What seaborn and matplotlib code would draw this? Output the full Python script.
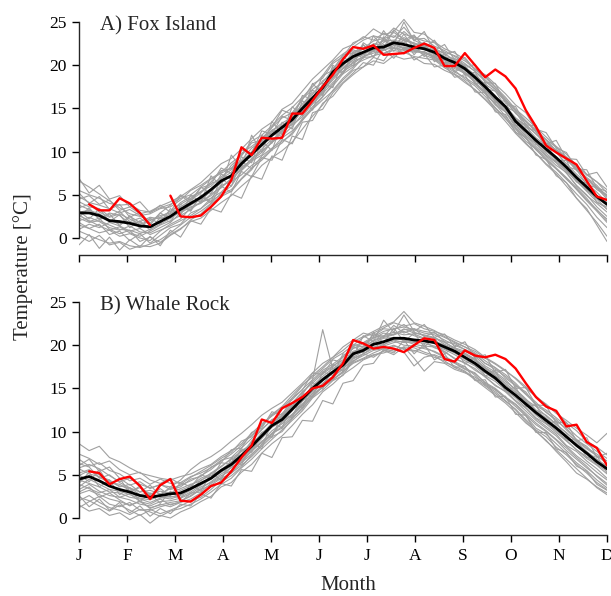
import numpy as np
import pandas as pd
import matplotlib
matplotlib.use("Agg")
import matplotlib.pyplot as plt
import seaborn as sns

# ---------------- data ----------------
weeks = list(range(53))
month_labels = ["J", "F", "M", "A", "M", "J", "J", "A", "S", "O", "N", "D"]
panel_titles = ["A) Fox Island", "B) Whale Rock"]

fox_mean = [2.9, 2.9, 2.6, 2.0, 1.9, 1.7, 1.4, 1.3, 1.9, 2.5, 3.3,
            4.0, 4.7, 5.6, 6.6, 7.2, 8.6, 9.7, 10.8, 11.9, 12.8, 13.7,
            15.0, 16.2, 17.4, 19.2, 20.2, 21.0, 21.5, 22.0, 22.1, 22.6, 22.4,
            22.1, 21.9, 21.5, 20.8, 20.3, 19.6, 18.6, 17.5, 16.3, 15.2, 13.5,
            12.4, 11.3, 10.3, 9.3, 8.2, 7.0, 5.9, 4.8, 3.9]

fox_focus = [np.nan, 3.9, 3.2, 3.2, 4.6, 4.0, 2.9, 1.5, np.nan, 4.9, 2.5,
             2.4, 2.6, 3.6, 4.8, 6.7, 10.5, 9.6, 11.6, 11.5, 11.6, 14.4,
             14.4, 15.9, 17.5, 18.9, 20.7, 22.1, 21.9, 22.3, 21.2, 21.3, 21.4,
             22.0, 22.5, 22.0, 19.9, 19.9, 21.4, 20.0, 18.6, 19.5, 18.7, 17.3,
             14.8, 12.9, 10.7, 9.9, 9.2, 8.5, 6.6, 4.8, 4.4]

fox_years = [
    [5.5, 5.0, 4.6, 4.0, 3.8, 3.9, 3.2, 3.0, 3.5, 3.9, 4.6,
     5.0, 5.9, 6.8, 7.5, 8.1, 9.0, 10.4, 11.2, 12.5, 13.0, 13.9,
     14.6, 15.8, 17.0, 18.3, 19.6, 20.2, 21.0, 21.4, 21.8, 22.0, 21.7,
     21.5, 21.6, 20.9, 20.2, 19.8, 19.0, 18.2, 17.4, 16.0, 15.1, 13.9,
     13.0, 12.1, 11.0, 10.2, 9.4, 8.3, 7.4, 6.5, 5.6],
    [0.8, 0.3, -0.2, -0.6, -0.4, -0.9, -1.1, -0.7, -0.2, 0.6, 1.5,
     2.4, 3.1, 4.0, 5.2, 6.0, 7.8, 8.9, 9.6, 11.2, 12.3, 13.2,
     14.8, 16.0, 17.5, 18.8, 19.9, 21.3, 22.0, 22.8, 23.1, 23.4, 22.8,
     22.6, 22.0, 21.2, 20.5, 19.8, 19.2, 18.0, 16.9, 15.4, 14.6, 12.8,
     11.6, 10.2, 9.1, 8.0, 6.9, 5.6, 4.3, 3.1, 1.8],
    [3.5, 3.9, 3.0, 2.4, 2.8, 2.2, 1.6, 2.0, 2.6, 2.9, 4.1,
     4.8, 5.3, 6.5, 7.8, 8.0, 9.8, 10.6, 11.5, 12.8, 13.9, 14.5,
     16.1, 17.2, 18.0, 19.5, 21.2, 21.4, 22.3, 21.6, 23.0, 22.4, 23.2,
     22.5, 22.1, 21.8, 21.4, 20.4, 20.1, 19.3, 18.1, 17.2, 15.9, 14.4,
     13.5, 12.3, 11.4, 10.1, 9.0, 8.1, 6.8, 5.9, 4.7],
    [1.5, 1.1, 0.6, 0.9, 0.2, 0.5, 0.0, -0.3, 0.8, 1.6, 2.2,
     3.5, 4.1, 4.6, 5.9, 6.8, 7.9, 9.2, 10.1, 11.0, 12.5, 13.1,
     14.0, 15.6, 16.9, 18.5, 19.7, 20.8, 21.2, 21.9, 22.6, 23.8, 23.0,
     22.4, 22.6, 21.9, 21.0, 20.1, 19.0, 18.4, 17.1, 15.8, 14.7, 13.0,
     11.8, 10.9, 9.6, 8.7, 7.5, 6.1, 5.0, 3.6, 2.5],
    [4.2, 3.6, 3.4, 2.5, 3.1, 1.9, 2.3, 1.5, 2.9, 3.8, 5.0,
     4.4, 5.8, 6.2, 8.1, 7.5, 10.2, 9.8, 12.4, 12.0, 14.1, 13.6,
     16.5, 16.0, 18.8, 19.4, 20.9, 20.3, 22.6, 21.8, 22.9, 22.0, 23.6,
     21.9, 21.4, 21.0, 20.3, 20.4, 19.1, 18.6, 17.0, 16.4, 15.3, 13.9,
     12.9, 11.6, 10.7, 9.9, 8.6, 7.4, 6.3, 5.3, 4.1],
    [2.0, 2.4, 1.9, 1.2, 0.9, 1.4, 0.7, 0.6, 1.2, 1.8, 2.9,
     3.6, 4.0, 5.1, 5.8, 6.9, 8.0, 9.1, 10.3, 11.4, 12.0, 13.4,
     14.7, 15.9, 17.1, 18.6, 19.6, 20.6, 21.4, 21.7, 21.9, 22.5, 22.0,
     21.6, 21.4, 21.0, 20.2, 19.6, 19.1, 18.0, 16.8, 15.6, 14.6, 13.1,
     11.8, 10.6, 9.5, 8.4, 7.6, 6.0, 4.9, 4.0, 3.0],
    [4.8, 4.1, 3.8, 3.4, 2.9, 3.3, 2.6, 2.8, 3.4, 3.6, 4.4,
     5.5, 6.1, 6.9, 7.6, 8.7, 9.6, 11.2, 11.9, 13.0, 14.2, 15.1,
     16.3, 17.5, 18.8, 20.4, 21.3, 22.1, 22.9, 23.4, 23.1, 24.3, 23.6,
     23.2, 22.8, 22.6, 21.5, 21.1, 20.5, 19.6, 18.8, 17.5, 16.3, 14.9,
     13.9, 12.8, 11.7, 10.6, 9.7, 8.4, 7.3, 6.5, 5.2],
    [0.2, -0.4, 0.3, -0.8, -0.5, -1.3, -0.9, -1.0, -0.6, 0.3, 1.0,
     2.1, 2.8, 3.9, 4.8, 5.4, 6.8, 7.9, 9.5, 10.4, 11.2, 12.0,
     13.6, 15.0, 16.3, 17.8, 19.3, 20.0, 20.6, 21.1, 21.4, 21.7, 21.5,
     21.0, 20.8, 20.6, 19.7, 19.0, 18.2, 17.1, 16.0, 14.8, 13.5, 12.1,
     10.9, 9.8, 8.6, 7.6, 6.4, 5.1, 3.9, 2.4, 1.2],
    [6.6, 5.9, 5.1, 4.3, 3.5, 2.8, 2.5, 2.1, 2.4, 3.1, 3.9,
     4.6, 5.4, 6.0, 7.1, 7.9, 8.8, 10.0, 11.6, 12.4, 13.3, 14.0,
     15.5, 16.8, 17.6, 19.0, 20.6, 21.8, 21.2, 22.5, 22.2, 22.8, 23.9,
     22.9, 22.3, 22.0, 21.3, 20.6, 19.8, 18.9, 17.8, 17.0, 15.8, 14.5,
     13.2, 12.0, 10.9, 10.2, 9.1, 7.9, 6.9, 5.6, 4.9],
    [2.6, 2.0, 1.4, 0.9, 1.3, 0.6, 0.2, 0.8, 1.5, 2.0, 2.6,
     3.3, 4.2, 4.9, 6.1, 6.5, 8.2, 9.0, 9.9, 11.1, 11.8, 12.9,
     14.3, 15.5, 16.7, 18.0, 19.1, 20.4, 21.0, 21.6, 21.3, 22.0, 21.8,
     21.9, 21.2, 20.7, 19.9, 19.2, 18.6, 17.8, 16.7, 15.5, 14.1, 12.7,
     11.5, 10.4, 9.3, 8.1, 7.0, 5.8, 4.6, 3.2, 2.2],
    [3.0, 3.2, 2.8, 2.1, 1.6, 2.5, 1.8, 1.2, 1.9, 2.4, 3.4,
     4.2, 4.3, 5.5, 6.9, 7.6, 8.9, 9.4, 11.0, 12.3, 12.7, 14.4,
     15.2, 16.6, 18.2, 19.0, 20.0, 21.6, 21.9, 22.4, 22.8, 22.9, 22.6,
     23.4, 22.2, 21.6, 20.9, 20.8, 19.9, 18.5, 17.6, 16.5, 15.0, 13.8,
     12.6, 11.3, 10.0, 9.2, 8.0, 6.8, 5.5, 4.6, 3.8],
    [1.0, 1.6, 1.2, 1.8, 1.4, 0.8, 1.1, 0.4, 0.9, 1.4, 2.0,
     2.6, 3.4, 4.3, 5.0, 5.6, 6.9, 8.1, 9.0, 10.2, 11.0, 12.2,
     13.8, 15.2, 16.4, 17.6, 19.0, 19.8, 20.9, 21.7, 22.4, 21.9, 22.1,
     21.8, 21.5, 21.1, 20.6, 20.0, 19.4, 18.4, 17.2, 15.9, 14.9, 13.4,
     12.0, 11.0, 9.8, 8.8, 7.8, 6.6, 5.4, 4.2, 3.4],
    [3.8, 3.3, 2.2, 2.9, 2.6, 1.7, 1.9, 2.4, 2.2, 2.8, 3.6,
     4.4, 5.2, 6.3, 6.8, 8.4, 9.5, 11.0, 11.3, 12.8, 14.8, 14.3,
     16.0, 17.8, 18.5, 20.2, 21.0, 22.6, 23.1, 24.2, 23.5, 23.9, 25.3,
     23.8, 23.6, 22.7, 21.9, 21.4, 20.7, 19.5, 18.6, 17.4, 16.1, 14.7,
     13.5, 12.5, 11.4, 10.5, 9.2, 7.8, 6.9, 5.8, 5.0],
    [2.3, 1.8, 2.0, 1.5, 1.0, 0.9, 0.5, 1.0, 1.6, 2.3, 3.0,
     3.8, 4.5, 5.4, 6.4, 7.3, 8.4, 9.6, 10.6, 11.8, 12.4, 13.5,
     15.0, 16.3, 17.3, 18.9, 20.3, 20.9, 21.5, 22.1, 21.7, 22.3, 22.0,
     21.7, 21.5, 20.8, 20.0, 19.4, 18.4, 17.6, 16.4, 15.1, 13.9, 12.3,
     11.0, 9.8, 8.5, 7.4, 6.0, 4.6, 3.2, 1.8, 0.2],
    [3.1, 2.2, 3.4, 1.9, 2.7, 1.2, 2.0, 0.9, 2.4, 1.8, 3.9,
     3.2, 5.0, 4.2, 6.9, 6.0, 8.9, 8.0, 11.3, 10.1, 13.4, 12.6,
     15.9, 14.8, 17.9, 17.4, 20.6, 19.9, 22.4, 20.9, 23.3, 21.6, 23.0,
     21.2, 22.6, 20.4, 21.3, 19.2, 20.0, 17.8, 18.0, 15.7, 15.9, 13.0,
     13.3, 10.8, 11.0, 8.9, 9.0, 6.5, 6.4, 4.1, 3.6],
    [6.9, 5.2, 6.1, 4.5, 4.9, 3.6, 4.2, 2.9, 3.8, 3.0, 4.9,
     4.1, 5.9, 5.1, 7.4, 6.8, 9.4, 8.7, 11.9, 11.0, 13.0, 13.9,
     15.2, 17.1, 16.5, 19.8, 19.0, 21.5, 20.8, 23.4, 22.0, 24.1, 22.9,
     23.5, 22.0, 22.9, 21.2, 21.6, 19.7, 20.1, 18.0, 17.9, 15.6, 15.2,
     13.1, 13.0, 10.9, 11.3, 9.2, 9.1, 7.3, 7.6, 5.9],
    [-0.8, 0.4, -1.2, 0.1, -1.4, -0.2, -1.0, 0.2, -0.9, 0.9, 0.1,
     2.0, 1.6, 3.4, 3.0, 5.1, 4.6, 7.2, 6.8, 9.5, 9.0, 11.8,
     11.4, 14.5, 14.9, 16.8, 18.0, 19.1, 20.3, 20.0, 21.9, 20.8, 22.1,
     20.6, 21.3, 19.8, 20.0, 18.6, 18.9, 16.9, 16.8, 14.6, 14.3, 12.2,
     11.7, 9.6, 9.1, 7.2, 6.4, 4.6, 3.4, 1.5, -0.4],
    [2.4, 3.5, 2.1, 2.8, 1.4, 2.6, 1.1, 2.3, 1.6, 3.4, 2.6,
     5.0, 4.1, 7.2, 6.0, 9.6, 8.1, 11.9, 9.9, 13.5, 12.0, 15.2,
     14.1, 17.9, 16.6, 20.0, 19.2, 21.1, 21.9, 22.0, 24.0, 22.4, 25.0,
     22.8, 23.9, 21.7, 22.4, 20.6, 20.9, 19.5, 18.9, 17.8, 16.7, 15.4,
     14.5, 12.6, 12.2, 10.4, 9.9, 8.0, 7.9, 5.8, 5.4],
    [1.8, 1.1, 1.6, 0.4, 0.8, -0.3, 0.5, -0.6, 0.3, 1.2, 1.6,
     2.9, 3.4, 4.6, 5.3, 6.5, 7.3, 8.4, 9.2, 10.3, 11.6, 12.4,
     13.7, 14.9, 16.0, 17.0, 18.3, 19.4, 19.8, 20.5, 20.2, 21.1, 20.7,
     20.9, 20.2, 20.1, 19.4, 18.9, 18.0, 17.2, 16.1, 15.0, 13.8, 12.6,
     11.2, 10.3, 9.0, 8.0, 6.8, 5.7, 4.4, 3.3, 2.0],
    [4.5, 4.9, 3.9, 4.4, 3.2, 3.6, 2.8, 3.1, 3.7, 4.2, 4.8,
     5.6, 6.4, 7.5, 8.6, 9.2, 10.3, 11.5, 12.6, 13.4, 14.9, 15.6,
     17.0, 18.4, 19.5, 20.6, 21.9, 22.4, 23.3, 22.9, 23.7, 23.2, 24.4,
     23.0, 23.1, 22.2, 21.7, 21.0, 20.2, 19.3, 18.3, 17.2, 16.0, 14.8,
     13.6, 12.4, 11.3, 10.0, 9.3, 8.1, 7.0, 6.1, 4.8],
    [2.7, 1.9, 2.3, 1.0, 0.5, 0.9, -0.4, 0.1, -0.5, 0.4, 1.1,
     1.9, 2.3, 3.2, 4.1, 4.9, 6.0, 7.0, 8.4, 9.3, 10.1, 11.1,
     12.6, 14.1, 15.4, 17.1, 18.5, 19.6, 20.9, 21.0, 22.0, 22.6, 21.9,
     22.3, 21.8, 21.3, 20.7, 19.9, 19.5, 18.6, 17.6, 16.1, 14.9, 13.7,
     12.6, 11.2, 10.1, 9.0, 7.8, 6.5, 5.6, 4.5, 3.3],
    [5.2, 4.0, 4.8, 3.3, 3.9, 2.4, 3.0, 1.7, 2.9, 2.2, 3.6,
     3.1, 4.9, 4.0, 6.0, 5.3, 7.7, 7.1, 9.3, 9.0, 11.4, 10.9,
     13.4, 13.6, 15.6, 16.4, 17.9, 18.9, 19.8, 20.9, 20.5, 22.1, 21.3,
     22.3, 21.0, 21.9, 20.1, 20.5, 18.9, 19.2, 17.3, 17.0, 15.2, 14.6,
     12.8, 12.4, 10.3, 10.1, 8.3, 7.9, 6.2, 5.8, 4.5],
]

whale_mean = [4.5, 4.8, 4.3, 3.7, 3.3, 3.0, 2.6, 2.4, 2.6, 2.8, 2.9,
              3.4, 4.0, 4.6, 5.5, 6.2, 7.2, 8.3, 9.5, 10.7, 11.4, 12.6,
              13.8, 15.0, 16.0, 16.9, 17.7, 19.0, 19.4, 20.1, 20.4, 20.8, 20.8,
              20.6, 20.5, 20.3, 19.8, 19.3, 18.6, 17.9, 17.0, 16.2, 15.1, 14.2,
              13.2, 12.2, 11.3, 10.4, 9.4, 8.4, 7.5, 6.5, 5.7]

whale_focus = [np.nan, 5.4, 5.2, 3.9, 4.5, 4.8, 3.7, 2.2, 3.8, 4.5, 2.0,
               1.9, 2.7, 3.7, 4.1, 5.4, 7.0, 8.4, 11.4, 11.0, 12.7, 13.3,
               14.0, 15.0, 15.3, 16.3, 17.9, 20.6, 20.2, 19.6, 19.8, 19.6, 19.2,
               20.0, 20.8, 20.6, 18.4, 18.1, 19.4, 18.8, 18.6, 18.9, 18.4, 17.3,
               15.6, 14.0, 12.9, 12.4, 10.6, 10.8, 8.8, 8.1, 6.1]

whale_years = [
    [8.6, 7.8, 8.3, 7.0, 6.5, 5.8, 5.2, 4.9, 4.6, 4.4, 4.8,
     5.1, 5.7, 6.2, 7.1, 7.8, 8.6, 9.8, 10.9, 11.8, 12.6, 13.7,
     14.9, 16.0, 17.1, 17.8, 18.7, 19.9, 20.3, 21.0, 21.6, 21.9, 22.1,
     21.8, 21.4, 21.2, 20.6, 20.0, 19.5, 18.9, 17.9, 17.2, 16.4, 15.4,
     14.3, 13.2, 12.5, 11.6, 10.6, 9.5, 8.6, 7.7, 6.9],
    [2.0, 2.6, 1.8, 1.2, 0.9, 0.4, 1.0, 0.7, 0.2, 0.8, 1.1,
     1.6, 2.2, 3.0, 3.9, 4.6, 5.8, 6.8, 8.0, 9.1, 10.2, 11.3,
     12.4, 13.9, 14.8, 15.9, 16.5, 18.2, 18.8, 19.4, 19.6, 20.0, 19.5,
     19.3, 19.8, 19.2, 18.6, 18.0, 17.3, 16.8, 15.6, 14.9, 13.9, 13.1,
     11.9, 10.8, 10.0, 9.0, 7.8, 6.8, 5.8, 4.9, 4.0],
    [5.2, 5.6, 4.7, 4.1, 3.9, 3.2, 3.5, 2.8, 3.1, 2.9, 3.4,
     3.9, 4.3, 5.2, 6.0, 6.8, 7.4, 8.9, 10.2, 11.4, 11.8, 13.3,
     14.5, 15.8, 16.9, 17.6, 18.3, 19.7, 19.9, 20.9, 21.1, 21.5, 21.2,
     21.3, 20.8, 20.9, 20.1, 19.6, 19.1, 18.4, 17.4, 16.7, 15.8, 14.9,
     13.8, 12.5, 11.9, 10.9, 9.8, 8.9, 8.0, 7.2, 6.3],
    [3.3, 3.9, 3.1, 2.6, 2.4, 2.1, 1.6, 1.4, 1.9, 2.0, 2.3,
     2.8, 3.6, 4.1, 4.9, 5.5, 6.6, 7.7, 8.8, 10.1, 10.9, 12.0,
     13.1, 14.4, 15.6, 16.4, 17.2, 18.5, 19.0, 19.8, 19.9, 20.3, 20.5,
     20.1, 19.9, 19.8, 19.2, 18.5, 17.9, 17.3, 16.3, 15.4, 14.6, 13.5,
     12.4, 11.3, 10.4, 9.5, 8.3, 7.2, 6.3, 5.3, 4.4],
    [6.1, 6.8, 5.4, 5.9, 4.6, 3.8, 4.2, 3.4, 3.9, 3.3, 3.6,
     4.5, 4.8, 5.9, 6.4, 7.9, 8.1, 9.9, 10.4, 12.3, 11.9, 13.9,
     14.8, 16.8, 16.6, 18.3, 18.0, 20.1, 19.8, 21.3, 21.0, 22.3, 21.4,
     21.9, 21.0, 21.5, 20.4, 20.2, 19.5, 19.0, 17.9, 17.4, 16.2, 15.3,
     14.6, 13.0, 12.3, 11.2, 10.4, 9.0, 8.3, 7.1, 6.6],
    [4.4, 4.0, 3.6, 3.0, 2.9, 2.4, 2.2, 1.8, 2.3, 2.5, 2.4,
     3.0, 3.8, 4.5, 5.3, 6.0, 7.0, 8.0, 9.2, 10.5, 11.2, 12.4,
     13.8, 14.7, 15.9, 16.8, 17.5, 18.6, 19.3, 19.7, 20.4, 20.6, 20.3,
     20.4, 20.2, 19.9, 19.5, 18.9, 18.2, 17.6, 16.5, 15.8, 14.8, 13.9,
     12.8, 11.6, 10.9, 9.9, 8.9, 7.9, 6.9, 6.1, 5.1],
    [5.7, 5.1, 4.8, 4.4, 3.6, 3.9, 3.0, 3.2, 2.8, 3.4, 3.8,
     4.3, 4.9, 5.6, 6.6, 7.4, 8.4, 9.6, 10.6, 11.9, 12.8, 13.9,
     15.3, 16.5, 17.5, 18.6, 19.4, 20.4, 21.0, 21.6, 22.2, 22.7, 23.9,
     22.6, 22.2, 21.7, 21.0, 20.4, 19.8, 19.1, 18.2, 17.4, 16.6, 15.6,
     14.4, 13.4, 12.2, 11.4, 10.2, 9.1, 8.1, 7.4, 6.6],
    [1.2, 1.9, 2.5, 1.6, 1.3, 1.8, 0.9, 1.0, 0.5, 0.9, 1.4,
     2.0, 2.4, 3.3, 4.4, 5.2, 6.1, 7.1, 8.3, 9.4, 10.0, 11.5,
     12.8, 14.0, 15.2, 16.0, 16.9, 18.0, 18.5, 19.1, 19.6, 19.3, 19.8,
     19.7, 19.2, 18.8, 18.0, 17.6, 17.0, 16.1, 15.3, 14.4, 13.5, 12.6,
     11.4, 10.2, 9.4, 8.2, 7.3, 6.2, 5.2, 4.1, 3.3],
    [4.9, 5.5, 5.0, 4.2, 3.7, 3.5, 2.7, 2.9, 2.4, 2.2, 2.6,
     3.2, 4.4, 4.9, 5.6, 6.5, 7.8, 8.5, 9.7, 11.0, 11.8, 12.8,
     13.9, 15.3, 16.4, 17.3, 18.1, 19.2, 19.8, 20.5, 20.9, 21.2, 21.6,
     21.1, 20.7, 20.5, 20.0, 19.4, 18.9, 18.2, 17.3, 16.5, 15.6, 14.6,
     13.5, 12.3, 11.5, 10.6, 9.5, 8.6, 7.6, 6.7, 5.9],
    [3.6, 4.5, 3.9, 3.3, 3.1, 2.7, 2.3, 2.1, 2.6, 2.4, 2.7,
     3.3, 3.9, 4.6, 5.6, 6.3, 7.4, 8.7, 9.6, 10.9, 11.9, 13.0,
     14.3, 16.0, 21.8, 17.2, 17.9, 19.1, 19.6, 20.3, 20.8, 20.9, 20.7,
     20.7, 20.6, 20.2, 19.6, 19.1, 18.4, 17.7, 16.8, 16.0, 15.2, 14.3,
     13.1, 11.9, 11.0, 10.1, 9.0, 7.9, 7.1, 6.2, 5.4],
    [5.8, 6.2, 5.7, 4.9, 4.2, 4.6, 3.9, 3.5, 3.8, 3.6, 3.2,
     3.7, 4.6, 5.1, 5.9, 6.9, 7.7, 8.4, 9.9, 10.6, 11.7, 12.9,
     14.0, 15.1, 16.2, 17.0, 17.8, 19.3, 19.6, 20.6, 21.0, 21.3, 21.8,
     21.9, 21.6, 21.4, 20.9, 20.3, 19.8, 19.3, 18.5, 17.8, 17.0, 16.2,
     15.2, 14.0, 13.2, 12.1, 11.3, 10.4, 9.6, 8.7, 9.8],
    [2.8, 3.2, 2.7, 2.2, 1.9, 1.5, 1.9, 1.2, 1.5, 1.8, 2.0,
     2.5, 3.3, 3.8, 4.6, 5.2, 6.4, 7.4, 8.5, 9.7, 10.6, 11.8,
     13.0, 14.1, 15.3, 16.0, 17.0, 17.9, 18.4, 18.9, 19.1, 19.5, 19.2,
     17.6, 18.6, 18.9, 18.4, 17.9, 17.2, 16.7, 15.7, 15.0, 14.0, 13.2,
     12.1, 11.0, 10.1, 9.1, 8.1, 7.0, 6.0, 4.8, 3.8],
    [6.8, 6.0, 6.4, 5.5, 5.1, 4.3, 4.6, 3.9, 4.5, 4.0, 4.1,
     4.8, 5.2, 5.8, 6.7, 7.0, 8.1, 9.2, 10.3, 11.3, 12.1, 13.3,
     14.6, 15.6, 16.7, 17.5, 18.6, 19.6, 20.2, 20.8, 21.4, 21.2, 21.9,
     21.4, 21.2, 20.9, 20.3, 19.7, 19.3, 18.7, 17.6, 16.9, 16.0, 14.8,
     13.7, 12.9, 11.8, 10.8, 9.9, 8.8, 7.7, 6.8, 6.0],
    [2.4, 2.0, 1.4, 0.8, 1.5, 0.9, 0.3, 0.9, 1.3, 1.6, 1.8,
     2.2, 2.9, 3.6, 4.2, 4.9, 5.9, 7.3, 8.5, 9.8, 10.4, 11.6,
     12.6, 14.2, 15.1, 16.1, 16.8, 18.4, 19.0, 19.6, 20.1, 20.5, 20.0,
     19.9, 19.6, 19.3, 18.7, 18.1, 17.5, 16.5, 15.4, 14.6, 13.6, 12.5,
     11.2, 10.0, 9.0, 7.7, 6.5, 5.2, 4.5, 3.6, 2.9],
    [4.0, 5.3, 3.6, 4.4, 2.7, 3.5, 1.9, 2.8, 1.7, 3.1, 2.2,
     3.9, 3.1, 5.2, 4.4, 6.9, 6.1, 8.9, 8.0, 11.2, 10.4, 13.3,
     12.7, 15.7, 14.9, 17.8, 17.0, 19.9, 19.1, 21.5, 20.2, 22.0, 20.4,
     21.4, 19.8, 20.9, 19.0, 19.8, 17.8, 18.6, 16.4, 17.1, 14.7, 15.2,
     12.9, 13.1, 10.9, 11.2, 9.0, 9.1, 7.0, 7.2, 5.2],
    [1.5, 0.8, 1.1, 0.3, 0.6, -0.2, 0.4, -0.6, 0.3, 0.0, 0.7,
     1.2, 1.9, 2.5, 3.6, 4.1, 5.3, 6.2, 7.5, 8.6, 9.5, 10.7,
     12.0, 13.1, 14.6, 15.5, 16.6, 17.4, 18.3, 18.8, 19.3, 19.9, 19.6,
     19.4, 19.0, 18.6, 18.2, 17.4, 16.9, 16.0, 15.1, 14.2, 13.3, 12.2,
     11.0, 10.1, 8.9, 7.9, 6.8, 5.7, 4.6, 3.5, 2.7],
    [5.0, 4.2, 5.6, 3.8, 4.6, 2.9, 3.7, 2.5, 3.4, 2.6, 4.1,
     3.6, 5.0, 4.6, 6.4, 6.2, 8.0, 7.6, 9.9, 9.3, 12.1, 11.6,
     14.4, 14.0, 16.9, 16.5, 19.0, 18.6, 21.1, 20.4, 22.9, 21.5, 23.5,
     21.6, 22.4, 20.9, 21.3, 19.8, 20.4, 18.5, 18.9, 16.8, 17.2, 15.0,
     15.1, 13.1, 13.0, 11.0, 11.1, 8.9, 9.3, 7.0, 7.5],
    [3.9, 3.4, 2.9, 3.3, 2.4, 2.8, 1.9, 1.6, 2.2, 1.5, 1.9,
     2.6, 3.4, 4.2, 5.1, 5.8, 6.7, 7.9, 8.7, 9.8, 11.1, 12.0,
     13.2, 14.4, 15.1, 16.2, 17.4, 18.1, 19.0, 18.6, 19.4, 18.9, 19.8,
     18.5, 17.0, 18.1, 17.9, 17.2, 16.8, 16.3, 15.5, 14.8, 13.9, 12.9,
     11.8, 10.4, 9.7, 8.6, 7.5, 6.4, 5.5, 4.4, 3.5],
    [7.4, 6.9, 6.2, 6.6, 5.6, 5.0, 5.3, 4.4, 4.0, 4.6, 3.9,
     4.7, 5.4, 6.1, 6.9, 7.6, 8.9, 9.4, 10.7, 12.0, 12.9, 14.2,
     15.4, 16.3, 17.3, 18.4, 19.1, 20.0, 20.9, 21.4, 22.0, 22.6, 22.2,
     22.5, 21.9, 21.6, 21.2, 20.6, 20.1, 19.5, 18.6, 17.9, 17.1, 16.1,
     15.0, 14.1, 13.1, 12.2, 11.0, 10.1, 8.9, 8.2, 7.3],
    [3.0, 3.6, 2.4, 2.9, 2.1, 1.4, 2.0, 1.1, 1.6, 1.3, 1.8,
     2.9, 3.0, 4.0, 4.7, 5.9, 6.4, 7.8, 8.9, 9.5, 11.2, 11.9,
     13.5, 14.6, 15.5, 16.9, 17.8, 18.9, 19.5, 20.2, 20.0, 20.9, 20.6,
     20.3, 20.5, 19.7, 19.3, 18.4, 18.0, 17.1, 16.4, 15.3, 14.7, 13.6,
     12.7, 11.5, 10.6, 9.7, 8.4, 7.7, 6.6, 5.7, 4.6],
    [6.3, 5.9, 4.6, 5.0, 4.1, 3.5, 3.0, 3.8, 2.6, 3.6, 4.4,
     5.6, 6.5, 7.1, 7.9, 8.9, 9.8, 10.8, 11.9, 12.7, 13.4, 14.5,
     15.6, 16.8, 17.9, 18.6, 19.8, 20.6, 21.4, 21.1, 21.9, 21.8, 22.4,
     21.5, 21.1, 20.8, 20.4, 19.6, 19.0, 18.3, 17.4, 16.5, 15.4, 14.5,
     13.6, 12.4, 11.6, 10.4, 9.6, 8.3, 7.5, 6.6, 5.8],
    [2.6, 1.3, 2.2, 0.9, 1.8, 0.6, 1.4, 0.2, 1.1, 0.5, 1.6,
     1.4, 2.8, 2.3, 4.0, 3.7, 5.6, 5.4, 7.5, 7.0, 9.3, 9.4,
     11.3, 11.2, 13.6, 13.2, 15.6, 15.9, 17.7, 17.9, 19.5, 19.1, 20.6,
     19.0, 20.1, 18.3, 19.0, 17.4, 17.6, 15.9, 16.0, 14.0, 14.1, 12.0,
     11.9, 9.9, 9.9, 8.0, 7.6, 6.0, 5.4, 3.9, 3.2],
]

# ---------------- style ----------------
sns.set_style("ticks")
plt.rcParams["font.family"] = ["Liberation Serif", "DejaVu Serif"]
plt.rcParams["axes.linewidth"] = 1.0

W, H = 611, 596
fig = plt.figure(figsize=(W / 100, H / 100), dpi=100)

ymin, ymax = -2.0, 26.5
pxu = 8.64
ax_left = 79 / W
ax_w = (607 - 79) / W
ax_h = (ymax - ymin) * pxu / H
zero_px = [238, 518]

panels = [(fox_years, fox_mean, fox_focus), (whale_years, whale_mean, whale_focus)]
month_pos = np.linspace(0, 52, 12)

for i, (years, mean, focus) in enumerate(panels):
    bottom_px = zero_px[i] + (-ymin) * pxu
    ax = fig.add_axes([ax_left, 1 - bottom_px / H, ax_w, ax_h])

    long = pd.DataFrame({
        "week": np.tile(weeks, len(years)),
        "temp": np.concatenate([np.asarray(y, float) for y in years]),
        "year": np.repeat(np.arange(len(years)), len(weeks)),
    })
    sns.lineplot(data=long, x="week", y="temp", units="year", estimator=None,
                 color="#a0a0a0", linewidth=0.8, ax=ax, legend=False)
    sns.lineplot(x=weeks, y=mean, color="black", linewidth=2.0, ax=ax)
    ax.plot(weeks, focus, color="#ff0000", linewidth=1.7)

    ax.set_xlim(0, 52)
    ax.set_ylim(ymin, ymax)
    ax.set_yticks([0, 5, 10, 15, 20, 25])
    ax.set_yticklabels(["0", "5", "10", "15", "20", "25"])
    ax.set_xticks(month_pos)
    ax.set_xticklabels(month_labels if i == 1 else [])
    ax.spines["top"].set_visible(False)
    ax.spines["right"].set_visible(False)
    ax.spines["left"].set_bounds(0, 25)
    ax.spines["bottom"].set_bounds(0, 52)
    ax.tick_params(axis="both", direction="out", length=5, width=1.0,
                   labelsize=12.5, colors="black", pad=4)
    ax.set_xlabel("")
    ax.set_ylabel("")
    ax.text(2.1, 24.55, panel_titles[i], fontsize=15, ha="left", va="center")

fig.text(348 / W, 1 - 585 / H, "Month", fontsize=15, ha="center", va="center")
fig.text(23 / W, 1 - 267 / H, "Temperature [°C]", fontsize=15, rotation=90,
         ha="center", va="center")

fig.savefig("out.png", dpi=100)
